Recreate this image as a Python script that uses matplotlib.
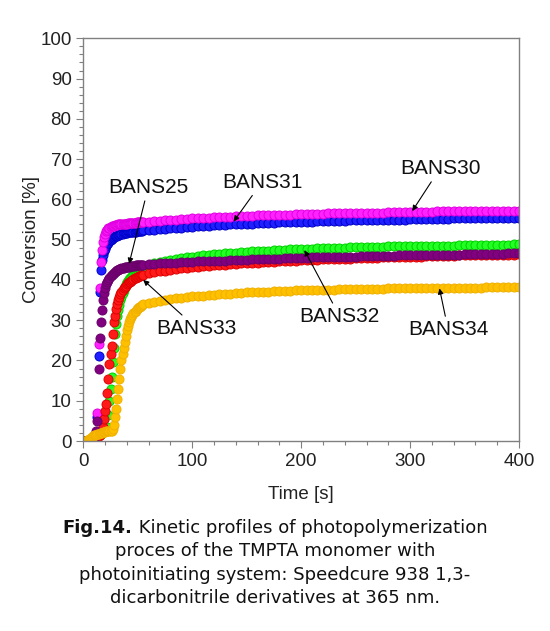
import numpy as np
import matplotlib.pyplot as plt
from matplotlib.ticker import MultipleLocator

plt.rcParams['font.family'] = ['Liberation Sans', 'DejaVu Sans']

# time grid: every 1 s up to 55 s, then every 5 s
time_s = np.concatenate([np.arange(1, 56), np.arange(60, 401, 5)])

# conversion [%], one value per time point
bans30 = [0, 0, 0, 0, 0, 0, 0, 0, 0.2, 0.4,
          0.8, 2, 7, 24, 38, 44.5, 47.5, 49.5, 50.7, 51.5,
          52.1, 52.5, 52.8, 53.0, 53.2, 53.3, 53.4, 53.5, 53.6, 53.7,
          53.7, 53.8, 53.8, 53.9, 53.9, 53.9, 54.0, 54.0, 54.0, 54.0,
          54.1, 54.1, 54.1, 54.1, 54.2, 54.2, 54.2, 54.2, 54.3, 54.3,
          54.3, 54.3, 54.3, 54.4, 54.4,
          54.5, 54.6, 54.7, 54.8, 54.9, 55.0, 55.1, 55.2, 55.3,
          55.4, 55.4, 55.5, 55.6, 55.6, 55.7, 55.7, 55.8, 55.8, 55.9,
          55.9, 56.0, 56.0, 56.1, 56.1, 56.2, 56.2, 56.2, 56.3, 56.3,
          56.3, 56.4, 56.4, 56.4, 56.5, 56.5, 56.5, 56.6, 56.6, 56.6,
          56.6, 56.7, 56.7, 56.7, 56.7, 56.8, 56.8, 56.8, 56.8, 56.9,
          56.9, 56.9, 56.9, 56.9, 57.0, 57.0, 57.0, 57.0, 57.0, 57.0,
          57.1, 57.1, 57.1, 57.1, 57.1, 57.1, 57.2, 57.2, 57.2, 57.2]

bans31 = [0, 0, 0, 0, 0, 0, 0, 0, 0.2, 0.4,
          0.8, 2, 6, 21, 37, 42.5, 45.0, 46.3, 47.2, 47.8,
          48.3, 48.8, 49.2, 49.6, 49.9, 50.2, 50.4, 50.6, 50.8, 50.9,
          51.0, 51.1, 51.2, 51.3, 51.4, 51.5, 51.6, 51.6, 51.7, 51.7,
          51.8, 51.8, 51.9, 51.9, 51.9, 52.0, 52.0, 52.0, 52.1, 52.1,
          52.1, 52.2, 52.2, 52.2, 52.3,
          52.4, 52.5, 52.6, 52.7, 52.8, 52.9, 53.0, 53.1, 53.2,
          53.3, 53.4, 53.5, 53.6, 53.7, 53.7, 53.8, 53.9, 53.9, 54.0,
          54.0, 54.1, 54.1, 54.2, 54.2, 54.3, 54.3, 54.4, 54.4, 54.5,
          54.5, 54.5, 54.6, 54.6, 54.6, 54.7, 54.7, 54.7, 54.8, 54.8,
          54.8, 54.9, 54.9, 54.9, 54.9, 55.0, 55.0, 55.0, 55.0, 55.1,
          55.1, 55.1, 55.1, 55.2, 55.2, 55.2, 55.2, 55.3, 55.3, 55.3,
          55.3, 55.3, 55.4, 55.4, 55.4, 55.4, 55.4, 55.5, 55.5, 55.5]

bans32 = [0, 0, 0, 0, 0, 0, 0, 0.2, 0.4, 0.6,
          0.8, 1.0, 1.2, 1.4, 1.6, 1.8, 2.0, 2.3, 2.6, 2.9,
          3.2, 3.5, 6.5, 10, 13, 15.8, 19.5, 23, 26.5, 29,
          31, 32.5, 33.8, 35, 35.8, 36.8, 37.6, 38.3, 38.9, 39.4,
          39.8, 40.2, 40.5, 40.8, 41.0, 41.3, 41.5, 41.7, 41.9, 42.1,
          42.3, 42.5, 42.7, 42.9, 43.2,
          43.7, 44.1, 44.5, 44.8, 45.0, 45.2, 45.4, 45.6, 45.8,
          45.9, 46.1, 46.2, 46.4, 46.5, 46.6, 46.7, 46.8, 46.9, 47.0,
          47.1, 47.2, 47.3, 47.3, 47.4, 47.5, 47.5, 47.6, 47.7, 47.7,
          47.8, 47.8, 47.9, 47.9, 47.9, 48.0, 48.0, 48.0, 48.1, 48.1,
          48.1, 48.2, 48.2, 48.2, 48.2, 48.3, 48.3, 48.3, 48.3, 48.4,
          48.4, 48.4, 48.4, 48.5, 48.5, 48.5, 48.5, 48.5, 48.6, 48.6,
          48.6, 48.6, 48.6, 48.7, 48.7, 48.7, 48.7, 48.7, 48.8, 48.8]

bans33 = [0, 0, 0, 0, 0, 0, 0, 0, 0.2, 0.4,
          0.6, 0.8, 1.0, 1.2, 1.5, 1.9, 2.4, 3.5, 5.5, 7.5,
          9.2, 12.0, 15.5, 19.0, 21.5, 23.5, 26.5, 29.5, 31.0, 32.7,
          34.0, 35.0, 35.8, 36.5, 37.1, 37.5, 37.9, 38.3, 38.6, 38.9,
          39.2, 39.4, 39.6, 39.8, 40.0, 40.2, 40.4, 40.5, 40.7, 40.8,
          40.9, 41.0, 41.1, 41.2, 41.3,
          41.6, 41.9, 42.1, 42.3, 42.5, 42.7, 42.9, 43.0, 43.2,
          43.3, 43.4, 43.5, 43.6, 43.7, 43.8, 43.9, 44.0, 44.1, 44.2,
          44.3, 44.3, 44.4, 44.5, 44.5, 44.6, 44.7, 44.7, 44.8, 44.9,
          44.9, 45.0, 45.0, 45.1, 45.1, 45.2, 45.2, 45.3, 45.3, 45.4,
          45.4, 45.5, 45.5, 45.5, 45.6, 45.6, 45.7, 45.7, 45.7, 45.8,
          45.8, 45.8, 45.9, 45.9, 45.9, 46.0, 46.0, 46.0, 46.1, 46.1,
          46.1, 46.1, 46.2, 46.2, 46.2, 46.3, 46.3, 46.3, 46.3, 46.4]

bans25 = [0, 0, 0, 0, 0, 0, 0, 0, 0.3, 0.6,
          1.2, 2.5, 5, 18, 25.5, 29.5, 32.5, 35, 36.8, 38,
          39, 39.5, 40.0, 40.5, 40.9, 41.2, 41.5, 41.8, 42.0, 42.2,
          42.4, 42.5, 42.7, 42.8, 42.9, 43.0, 43.0, 43.1, 43.2, 43.2,
          43.3, 43.3, 43.4, 43.4, 43.5, 43.5, 43.5, 43.6, 43.6, 43.6,
          43.7, 43.7, 43.7, 43.8, 43.8,
          43.9, 44.0, 44.1, 44.2, 44.3, 44.3, 44.4, 44.5, 44.5,
          44.6, 44.6, 44.7, 44.7, 44.8, 44.8, 44.9, 44.9, 45.0, 45.0,
          45.1, 45.1, 45.2, 45.2, 45.3, 45.3, 45.4, 45.4, 45.5, 45.5,
          45.5, 45.6, 45.6, 45.6, 45.7, 45.7, 45.7, 45.8, 45.8, 45.8,
          45.9, 45.9, 45.9, 46.0, 46.0, 46.0, 46.0, 46.1, 46.1, 46.1,
          46.1, 46.2, 46.2, 46.2, 46.2, 46.3, 46.3, 46.3, 46.3, 46.4,
          46.4, 46.4, 46.4, 46.5, 46.5, 46.5, 46.5, 46.6, 46.6, 46.6]

bans34 = [0, 0, 0, 0.2, 0.4, 0.6, 0.8, 1.0, 1.2, 1.4,
          1.5, 1.6, 1.7, 1.8, 1.9, 2.0, 2.1, 2.2, 2.3, 2.3,
          2.4, 2.4, 2.5, 2.5, 2.6, 2.6, 3.0, 4.0, 6.0, 8.0,
          10.5, 13.0, 15.5, 18.0, 20.0, 21.5, 23.0, 24.5, 26.0, 27.5,
          28.5, 29.5, 30.3, 30.9, 31.4, 31.8, 32.1, 32.4, 32.7, 33.0,
          33.2, 33.4, 33.6, 33.8, 34.0,
          34.3, 34.6, 34.8, 35.0, 35.2, 35.4, 35.6, 35.7, 35.9,
          36.0, 36.1, 36.2, 36.3, 36.4, 36.5, 36.6, 36.7, 36.8, 36.9,
          36.9, 37.0, 37.1, 37.1, 37.2, 37.2, 37.3, 37.3, 37.4, 37.4,
          37.5, 37.5, 37.5, 37.6, 37.6, 37.6, 37.7, 37.7, 37.7, 37.7,
          37.8, 37.8, 37.8, 37.8, 37.8, 37.9, 37.9, 37.9, 37.9, 37.9,
          38.0, 38.0, 38.0, 38.0, 38.0, 38.0, 38.1, 38.1, 38.1, 38.1,
          38.1, 38.1, 38.1, 38.2, 38.2, 38.2, 38.2, 38.2, 38.2, 38.2]

# drawing order matters: later series sit on top
curves = [
    (bans31, '#1f1fff', '#0000c8'),
    (bans30, '#ff22ff', '#e000e0'),
    (bans32, '#22ff22', '#00d000'),
    (bans33, '#ff1a1a', '#e00000'),
    (bans25, '#800080', '#6a006a'),
    (bans34, '#ffc000', '#f0b000'),
]

fig = plt.figure(figsize=(5.5, 6.31), dpi=100)
ax = fig.add_axes([0.1515, 0.3011, 0.7921, 0.6382])

for vals, col, edge in curves:
    ax.plot(time_s, vals, 'o', ls='none', ms=6.5, mfc=col, mec=edge, mew=0.7)

ax.set_xlim(0, 400)
ax.set_ylim(0, 100)
ax.xaxis.set_major_locator(MultipleLocator(100))
ax.xaxis.set_minor_locator(MultipleLocator(20))
ax.yaxis.set_major_locator(MultipleLocator(10))
ax.yaxis.set_minor_locator(MultipleLocator(2))
ax.tick_params(which='major', direction='out', length=5, width=0.8,
               color='#808080', labelsize=13.5, labelcolor='#222222')
ax.tick_params(which='minor', direction='out', length=3, width=0.8,
               color='#808080')
for sp in ax.spines.values():
    sp.set_color('#808080')
    sp.set_linewidth(1.0)

ax.set_xlabel('Time [s]', fontsize=13.5, color='#222222', labelpad=12)
ax.set_ylabel('Conversion [%]', fontsize=13.5, color='#222222', labelpad=0)

# labels with arrows
arrow = dict(arrowstyle='-|>', color='black', lw=0.8, mutation_scale=8,
             shrinkA=1, shrinkB=0)
labels = [
    ('BANS25', (42, 44.0), (59.6, 63.0)),
    ('BANS31', (138, 54.5), (164, 64.3)),
    ('BANS30', (302, 57.1), (327.5, 67.7)),
    ('BANS33', (55, 40.0), (104, 28.0)),
    ('BANS32', (203, 47.4), (235.5, 30.9)),
    ('BANS34', (327, 37.9), (335, 27.6)),
]
for name, tip, pos in labels:
    ax.annotate(name, xy=tip, xytext=pos, ha='center', va='center',
                fontsize=15, color='#111111', arrowprops=arrow)

# caption, one text per line; first line mixes bold and regular
cap_font = dict(family='DejaVu Sans', fontsize=13, color='#111111', va='center')
cap_lines = ["proces of the TMPTA monomer with",
             "photoinitiating system: Speedcure 938 1,3-",
             "dicarbonitrile derivatives at 365 nm."]
cap_y = [0.1632, 0.1268, 0.0888, 0.0523]

fig.canvas.draw()
r = fig.canvas.get_renderer()
t_bold = fig.text(0, cap_y[0], "Fig.14.", weight='bold', ha='left', **cap_font)
t_rest = fig.text(0, cap_y[0], " Kinetic profiles of photopolymerization", ha='left', **cap_font)
w1 = t_bold.get_window_extent(r).width
w2 = t_rest.get_window_extent(r).width
W = fig.bbox.width
x0 = (W - w1 - w2) / 2
t_bold.set_x(x0 / W)
t_rest.set_x((x0 + w1) / W)
for line, y in zip(cap_lines, cap_y[1:]):
    fig.text(0.5, y, line, ha='center', **cap_font)

fig.savefig('out.png', dpi=100)
